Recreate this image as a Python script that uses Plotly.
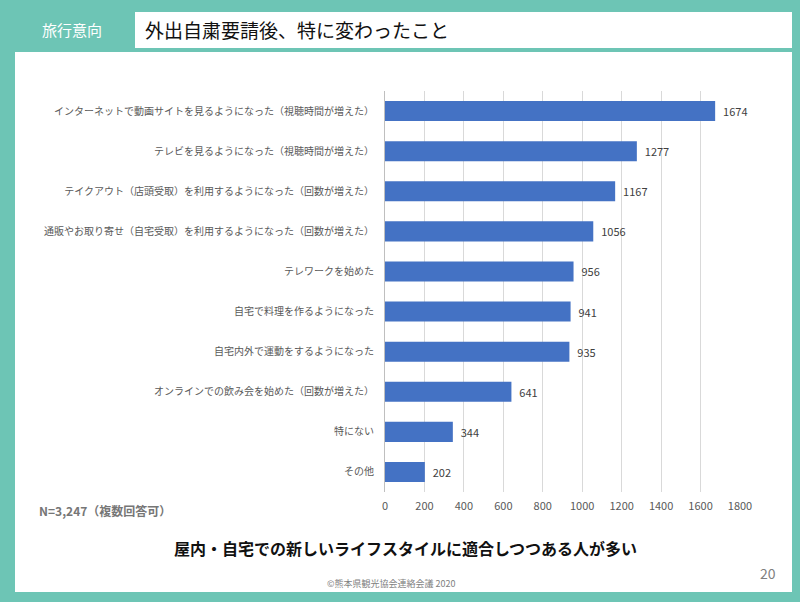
import plotly.graph_objects as go

categories = [
    "インターネットで動画サイトを見るようになった（視聴時間が増えた）",
    "テレビを見るようになった（視聴時間が増えた）",
    "テイクアウト（店頭受取）を利用するようになった（回数が増えた）",
    "通販やお取り寄せ（自宅受取）を利用するようになった（回数が増えた）",
    "テレワークを始めた",
    "自宅で料理を作るようになった",
    "自宅内外で運動をするようになった",
    "オンラインでの飲み会を始めた（回数が増えた）",
    "特にない",
    "その他",
]
values = [1674, 1277, 1167, 1056, 956, 941, 935, 641, 344, 202]
x_ticks = [0, 200, 400, 600, 800, 1000, 1200, 1400, 1600, 1800]

W, H = 800, 602
L, R, T, B = 385, 60, 91, 110
FONT = "Noto Sans CJK JP"
TEAL = "#6DC5B5"


def px(x):
    return (x - L) / (W - L - R)


def py(y):
    return (H - B - y) / (H - T - B)


fig = go.Figure(
    go.Bar(
        x=values,
        y=categories,
        orientation="h",
        marker=dict(color="#4472C4", line=dict(width=0)),
        width=0.5,
        text=["  " + str(v) for v in values],
        textposition="outside",
        textfont=dict(size=11, color="#404040", family=FONT),
        cliponaxis=False,
    )
)

shapes = [
    dict(type="rect", xref="paper", yref="paper", x0=px(15), x1=px(792),
         y0=py(592), y1=py(52), fillcolor="white", line=dict(width=0), layer="below"),
    dict(type="rect", xref="paper", yref="paper", x0=px(135), x1=px(792),
         y0=py(48), y1=py(12), fillcolor="white", line=dict(width=0), layer="below"),
]

annotations = [
    dict(text="旅行意向", x=px(40), y=py(29), xref="paper", yref="paper",
         xanchor="left", yanchor="middle", showarrow=False,
         font=dict(size=15, color="white", family=FONT)),
    dict(text="外出自粛要請後、特に変わったこと", x=px(143), y=py(29), xref="paper", yref="paper",
         xanchor="left", yanchor="middle", showarrow=False,
         font=dict(size=19, color="#111111", family=FONT)),
    dict(text="<b>N=3,247（複数回答可）</b>", x=px(37), y=py(510), xref="paper", yref="paper",
         xanchor="left", yanchor="middle", showarrow=False,
         font=dict(size=12, color="#767676", family=FONT)),
    dict(text="<b>屋内・自宅での新しいライフスタイルに適合しつつある人が多い</b>", x=px(405), y=py(548),
         xref="paper", yref="paper", xanchor="center", yanchor="middle", showarrow=False,
         font=dict(size=16, color="#111111", family=FONT)),
    dict(text="20", x=px(778), y=py(573), xref="paper", yref="paper",
         xanchor="right", yanchor="middle", showarrow=False,
         font=dict(size=14, color="#7F7F7F", family=FONT)),
    dict(text="©熊本県観光協会連絡会議 2020", x=px(391), y=py(583), xref="paper", yref="paper",
         xanchor="center", yanchor="middle", showarrow=False,
         font=dict(size=9, color="#7F7F7F", family=FONT)),
]

fig.update_layout(
    width=W, height=H,
    margin=dict(l=L, r=R, t=T, b=B, pad=0),
    paper_bgcolor=TEAL,
    plot_bgcolor="white",
    showlegend=False,
    shapes=shapes,
    annotations=annotations,
    xaxis=dict(
        range=[0, 1800], tickvals=x_ticks, ticktext=[str(t) for t in x_ticks],
        showgrid=True, gridcolor="#D9D9D9", gridwidth=1,
        zeroline=False, showline=False, ticks="",
        tickfont=dict(size=11, color="#595959", family=FONT),
        ticklabelstandoff=6, fixedrange=True,
    ),
    yaxis=dict(
        autorange="reversed", showgrid=False, zeroline=False,
        showline=True, linecolor="#BFBFBF", linewidth=1, ticks="",
        tickfont=dict(size=10, color="#595959", family=FONT),
        ticklabelstandoff=8, fixedrange=True,
    ),
)

fig.write_html(
    "out.html",
    config={"displayModeBar": False},
    post_script="document.body.style.margin='0';document.body.style.overflow='hidden';",
)
